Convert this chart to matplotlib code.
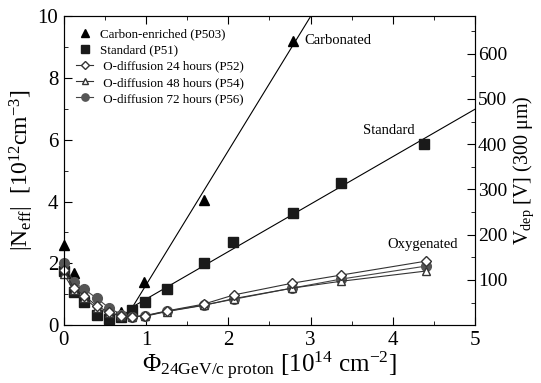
import matplotlib
matplotlib.use("Agg")
import matplotlib.pyplot as plt
import numpy as np
from matplotlib.ticker import MultipleLocator

plt.rcParams['font.family'] = ['Liberation Serif', 'DejaVu Serif']
plt.rcParams['mathtext.fontset'] = 'custom'
plt.rcParams['mathtext.rm'] = 'Liberation Serif'
plt.rcParams['mathtext.it'] = 'Liberation Serif:italic'

# fluence [1e14 cm^-2]
x_carb = [0.0, 0.12, 0.7, 0.98, 1.7, 2.79]
y_carb = [2.6, 1.68, 0.42, 1.39, 4.05, 9.19]

x_std = [0.0, 0.12, 0.25, 0.4, 0.55, 0.7, 0.83, 0.99, 1.25, 1.7, 2.06, 2.79, 3.37, 4.38]
y_std = [1.75, 1.07, 0.75, 0.33, 0.19, 0.28, 0.48, 0.74, 1.16, 2.0, 2.69, 3.62, 4.59, 5.86]

x_oxy = [0.0, 0.12, 0.25, 0.4, 0.55, 0.7, 0.83, 0.99, 1.25, 1.7, 2.07, 2.78, 3.37, 4.4]
y_p52 = [1.8, 1.2, 0.95, 0.62, 0.42, 0.3, 0.28, 0.31, 0.46, 0.68, 0.98, 1.36, 1.62, 2.07]
y_p54 = [1.65, 1.13, 0.87, 0.55, 0.39, 0.3, 0.27, 0.29, 0.44, 0.64, 0.86, 1.2, 1.42, 1.75]
y_p56 = [2.0, 1.39, 1.16, 0.87, 0.56, 0.34, 0.27, 0.3, 0.45, 0.65, 0.84, 1.2, 1.49, 1.91]

fig = plt.figure(figsize=(5.41, 3.83), dpi=100)
ax = fig.add_axes([0.118, 0.151, 0.76, 0.807])

# linear fits for the high fluence part
carb_fit = np.polyfit(x_carb[3:], y_carb[3:], 1)
xc = np.linspace(0.82, 5, 50)
ax.plot(xc, np.polyval(carb_fit, xc), color='black', lw=0.8)
std_fit = np.polyfit(x_std[6:], y_std[6:], 1)
xs = np.linspace(0.83, 5, 50)
ax.plot(xs, np.polyval(std_fit, xs), color='black', lw=0.8)

ax.plot(x_std, y_std, ls='none', marker='s', ms=7, color='#1a1a1a',
        label='Standard (P51)', zorder=3, clip_on=False)
ax.plot(x_carb, y_carb, ls='none', marker='^', ms=7, color='black',
        label='Carbon-enriched (P503)', zorder=3, clip_on=False)
ax.plot(x_oxy, y_p56, color='#444444', lw=0.8, marker='o', ms=7,
        mfc='#555555', mec='#555555', label=' O-diffusion 72 hours (P56)',
        zorder=4, clip_on=False)
ax.plot(x_oxy, y_p54, color='#333333', lw=0.8, marker='^', ms=6,
        mfc='white', mec='#333333', label=' O-diffusion 48 hours (P54)',
        zorder=4, clip_on=False)
ax.plot(x_oxy, y_p52, color='#333333', lw=0.8, marker='D', ms=5,
        mfc='white', mec='#333333', label=' O-diffusion 24 hours (P52)',
        zorder=4, clip_on=False)

h, l = ax.get_legend_handles_labels()
order = [1, 0, 4, 3, 2]
ax.legend([h[i] for i in order], [l[i] for i in order], loc='upper left',
          frameon=False, fontsize=9.4, handlelength=1.3, handletextpad=0.5,
          labelspacing=0.3, borderaxespad=0.55, markerscale=0.75)

ax.text(2.93, 9.2, 'Carbonated', fontsize=10.5, va='center')
ax.text(3.64, 6.3, 'Standard', fontsize=10.5, va='center')
ax.text(3.94, 2.62, 'Oxygenated', fontsize=10.5, va='center')

ax.set_xlim(0, 5)
ax.set_ylim(0, 10)
ax.xaxis.set_major_locator(MultipleLocator(1))
ax.xaxis.set_minor_locator(MultipleLocator(0.5))
ax.yaxis.set_major_locator(MultipleLocator(2))
ax.yaxis.set_minor_locator(MultipleLocator(1))
ax.tick_params(which='both', direction='in', top=True, right=False,
               labelsize=15)
ax.tick_params(axis='x', pad=4)
ax.tick_params(axis='y', pad=4)
ax.tick_params(which='major', length=6)
ax.tick_params(which='minor', length=3)
for s in ax.spines.values():
    s.set_color('#444444')

ax.set_xlabel(r'$\Phi_{\mathrm{24GeV/c\ proton}}$ [10$^{14}$ cm$^{-2}$]',
              fontsize=18, labelpad=0)
ax.set_ylabel(r'|N$_{\mathrm{eff}}$|  [10$^{12}$cm$^{-3}$]', fontsize=17,
              labelpad=1)

# depletion voltage for 300 um
ax2 = ax.twinx()
ax2.set_ylim(0, 10 * 68.3)
ax2.yaxis.set_major_locator(MultipleLocator(100))
ax2.yaxis.set_minor_locator(MultipleLocator(50))
ax2.set_yticks([100, 200, 300, 400, 500, 600])
ax2.tick_params(which='both', direction='in', labelsize=14, pad=2)
ax2.tick_params(which='major', length=6)
ax2.tick_params(which='minor', length=3)
ax2.set_ylabel(r'V$_{\mathrm{dep}}$ [V] (300 μm)', fontsize=14.5, labelpad=3)

fig.savefig('out.png', dpi=100)
